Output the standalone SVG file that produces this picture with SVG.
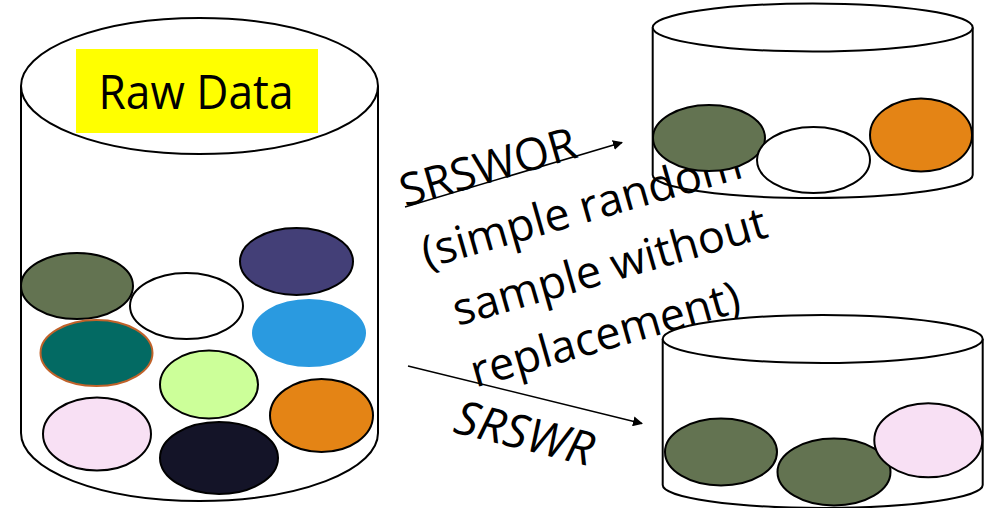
<svg xmlns="http://www.w3.org/2000/svg" width="992" height="508" viewBox="0 0 992 508">
<defs>
<marker id="ah" viewBox="0 0 10 10" refX="9" refY="5" markerWidth="10" markerHeight="10" markerUnits="userSpaceOnUse" orient="auto">
<path d="M0,0 L10,5 L0,10 z" fill="#000"/>
</marker>
<style>
.cyl{fill:none;stroke:#000;stroke-width:2}
.lid{fill:#fff;stroke:#000;stroke-width:2}
.ball{stroke:#000;stroke-width:2}
.lbl{font-family:"Open Sans","DejaVu Sans",sans-serif;font-size:45px;fill:#000}
.conn{stroke:#000;stroke-width:1.5;fill:none;marker-end:url(#ah)}
</style>
</defs>
<rect width="992" height="508" fill="#fff"/>

<g id="raw-data">
<path class="cyl" d="M21,86 L21,433 A178.5,68 0 0 0 378,433 L378,86"/>
<ellipse class="lid" cx="199.5" cy="86" rx="178.5" ry="68"/>
<rect x="76" y="49" width="242" height="84" fill="#ffff00"/>
<text x="196" y="109" text-anchor="middle" font-family="'Open Sans','DejaVu Sans',sans-serif" font-size="47" textLength="195" lengthAdjust="spacingAndGlyphs">Raw Data</text>
<ellipse class="ball" cx="77" cy="286" rx="56" ry="33" fill="#637351"/>
<ellipse class="ball" cx="186.5" cy="306" rx="56.5" ry="33" fill="#fff"/>
<ellipse class="ball" cx="296.5" cy="261.5" rx="56.5" ry="33.5" fill="#433f77"/>
<ellipse cx="309" cy="333" rx="57" ry="34" fill="#2a9ae0"/>
<ellipse cx="96.5" cy="353" rx="56" ry="33" fill="#036a63" stroke="#c0622a" stroke-width="2"/>
<ellipse class="ball" cx="209" cy="384.5" rx="49" ry="34" fill="#ccff99"/>
<ellipse class="ball" cx="97" cy="434" rx="54" ry="36.5" fill="#f8e0f4"/>
<ellipse class="ball" cx="219" cy="458" rx="59" ry="36" fill="#141428"/>
<ellipse class="ball" cx="321.5" cy="415.5" rx="51.5" ry="36.5" fill="#e48415"/>
</g>

<g id="srswor-label">
<text class="lbl" transform="translate(405,207) rotate(-16)">
<tspan x="0" y="0">SRSWOR</tspan>
<tspan x="4" y="65">(simple random</tspan>
<tspan x="18" y="129">sample without</tspan>
<tspan x="18" y="193">replacement)</tspan>
</text>
</g>

<g id="sample-wor">
<path class="cyl" d="M652.7,27.5 L652.7,175 A160,23 0 0 0 972.7,175 L972.7,27.5"/>
<ellipse class="lid" cx="812.7" cy="27.5" rx="160" ry="24"/>
<ellipse class="ball" cx="709" cy="138" rx="56" ry="33" fill="#637351"/>
<ellipse class="ball" cx="813.5" cy="160" rx="56.5" ry="33" fill="#fff"/>
<ellipse class="ball" cx="921" cy="135" rx="51" ry="36.5" fill="#e48415"/>
</g>

<g id="sample-wr">
<path class="cyl" d="M662.7,339 L662.7,485 A160,23 0 0 0 982.7,485 L982.7,339"/>
<ellipse class="lid" cx="822.7" cy="339" rx="160" ry="24"/>
<ellipse class="ball" cx="721" cy="452" rx="56" ry="33.5" fill="#637351"/>
<ellipse class="ball" cx="834" cy="472" rx="56.5" ry="33.5" fill="#637351"/>
<ellipse class="ball" cx="928.3" cy="440.3" rx="54" ry="37" fill="#f8e0f4"/>
</g>

<g id="connectors">
<line class="conn" x1="405" y1="207" x2="622" y2="142.5"/>
<line class="conn" x1="408" y1="366" x2="642" y2="423.5"/>
</g>

<g id="srswr-label">
<text class="lbl" font-style="italic" font-size="47" transform="translate(452,432) rotate(14)" style="font-size:47px">SRSWR</text>
</g>
</svg>
